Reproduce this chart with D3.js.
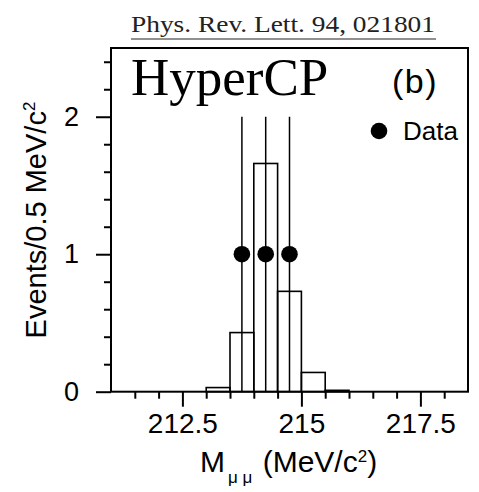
<!DOCTYPE html>
<html>
<head>
<meta charset="utf-8">
<script src="https://cdn.jsdelivr.net/npm/d3@7"></script>
<style>
  body { margin: 0; background: #fff; }
  svg text { fill: #000; }
</style>
</head>
<body>
<svg id="chart" width="479" height="492"></svg>
<script>
// histogram bins (0.5 MeV wide) and their heights
var bin_lo = [213.0, 213.5, 214.0, 214.5, 215.0, 215.5];
var bin_h  = [0.03, 0.43, 1.66, 0.73, 0.14, 0.01];

// data points
var data_x   = [213.75, 214.25, 214.75];
var data_y   = [1, 1, 1];
var data_err = [1, 1, 1];

var x_major = [212.5, 215, 217.5];
var y_major = [0, 1, 2];

var bin_w = 0.5;
var sans = "'Liberation Sans', Arial, sans-serif",
    serif = "'Liberation Serif', 'Times New Roman', serif";

var svg = d3.select("#chart");

var scale_X = d3.scaleLinear().domain([211, 218.5]).range([111, 468]);
var scale_Y = d3.scaleLinear().domain([0, 2.5]).range([391.7, 48]);

var x_minor = d3.range(211.5, 218.5, 0.5).filter(function(v) { return x_major.indexOf(v) < 0; });
var y_minor = d3.range(0.2, 2.5, 0.2).filter(function(v) { return Math.abs(v - Math.round(v)) > 0.01; });

// frame
svg.append("rect")
  .attr("x", scale_X(211)).attr("y", scale_Y(2.5))
  .attr("width", scale_X(218.5) - scale_X(211))
  .attr("height", scale_Y(0) - scale_Y(2.5))
  .style("fill", "none").style("stroke", "#000").style("stroke-width", 2);

// histogram bars (outlined)
svg.selectAll(".bin").data(bin_lo).enter().append("rect").attr("class", "bin")
  .attr("x", function(d) { return scale_X(d); })
  .attr("y", function(d, i) { return scale_Y(bin_h[i]); })
  .attr("width", scale_X(213 + bin_w) - scale_X(213))
  .attr("height", function(d, i) { return scale_Y(0) - scale_Y(bin_h[i]); })
  .style("fill", "none").style("stroke", "#000").style("stroke-width", 1.6);

// error bars
svg.selectAll(".err").data(data_x).enter().append("line").attr("class", "err")
  .attr("x1", function(d) { return scale_X(d); })
  .attr("x2", function(d) { return scale_X(d); })
  .attr("y1", function(d, i) { return scale_Y(data_y[i] - data_err[i]); })
  .attr("y2", function(d, i) { return scale_Y(data_y[i] + data_err[i]); })
  .style("stroke", "#000").style("stroke-width", 1.5);

svg.selectAll(".pt").data(data_x).enter().append("circle").attr("class", "pt")
  .attr("cx", function(d) { return scale_X(d); })
  .attr("cy", function(d, i) { return scale_Y(data_y[i]); })
  .attr("r", 8.3).style("fill", "#000");

// axes
function style_axis(g) {
  g.select(".domain").remove();
  g.selectAll(".tick line").style("stroke", "#000").style("stroke-width", 2);
  g.selectAll("text").style("font-family", sans);
}

var x_axis = d3.axisBottom(scale_X).tickValues(x_major).tickSize(15).tickPadding(6)
  .tickFormat(function(d) { return d3.format("")(d); });
svg.append("g").attr("transform", "translate(0," + scale_Y(0) + ")").call(x_axis)
  .call(style_axis).selectAll("text").style("font-size", "28px");
svg.append("g").attr("transform", "translate(0," + scale_Y(0) + ")")
  .call(d3.axisBottom(scale_X).tickValues(x_minor).tickSize(7).tickFormat(""))
  .call(style_axis);

var y_axis = d3.axisLeft(scale_Y).tickValues(y_major).tickSize(15).tickPadding(17)
  .tickFormat(d3.format("d"));
svg.append("g").attr("transform", "translate(" + scale_X(211) + ",0)").call(y_axis)
  .call(style_axis).selectAll("text").style("font-size", "27px");
svg.append("g").attr("transform", "translate(" + scale_X(211) + ",0)")
  .call(d3.axisLeft(scale_Y).tickValues(y_minor).tickSize(7).tickFormat(""))
  .call(style_axis);

// axis titles
var xt = svg.append("text").attr("x", 200).attr("y", 472)
  .style("font-family", sans).style("font-size", "30px");
xt.append("tspan").text("M");
xt.append("tspan").attr("dx", 3).attr("dy", 11).style("font-size", "17px").text("μ μ");
xt.append("tspan").attr("dx", 2).attr("dy", -11).text(" (MeV/c");
xt.append("tspan").attr("dy", -10).style("font-size", "17px").text("2");
xt.append("tspan").attr("dy", 10).text(")");

var yt = svg.append("text").attr("transform", "translate(46,220) rotate(-90)")
  .attr("text-anchor", "middle")
  .style("font-family", sans).style("font-size", "29px");
yt.append("tspan").text("Events/0.5 MeV/c");
yt.append("tspan").attr("dy", -11).style("font-size", "17px").text("2");

// labels inside frame
svg.append("text").attr("x", 131).attr("y", 95).text("HyperCP")
  .style("font-family", serif).style("font-size", "53px");
svg.append("text").attr("x", 392).attr("y", 93).text("(b)")
  .style("font-family", sans).style("font-size", "34px").style("letter-spacing", "1.5px");

svg.append("circle").attr("cx", 379).attr("cy", 131).attr("r", 8.3).style("fill", "#000");
svg.append("text").attr("x", 403).attr("y", 139.5).text("Data")
  .style("font-family", sans).style("font-size", "26px");

// reference line on top
svg.append("text").attr("x", 131).attr("y", 32)
  .attr("textLength", 304).attr("lengthAdjust", "spacingAndGlyphs")
  .text("Phys. Rev. Lett. 94, 021801")
  .style("font-family", serif).style("font-size", "23px").style("fill", "#222");
svg.append("line").attr("x1", 131).attr("x2", 436).attr("y1", 39).attr("y2", 39)
  .style("stroke", "#222").style("stroke-width", 1.2);
</script>
</body>
</html>
